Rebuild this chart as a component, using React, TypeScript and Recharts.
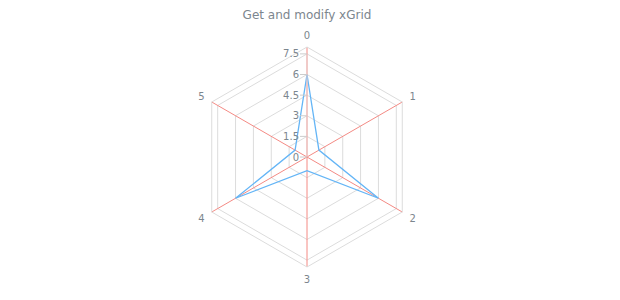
import { RadarChart, Radar, PolarGrid, PolarAngleAxis, PolarRadiusAxis } from "recharts";

const categories = ["0", "1", "2", "3", "4", "5"];
const values = [6, 1, 6, 1, 6, 1];
const radiusTicks = [0, 1.5, 3, 4.5, 6, 7.5];

const data = categories.map((name, i) => ({ name, value: values[i] }));

const font = "'DejaVu Sans', Verdana, sans-serif";
const labelColor = "#7c868e";
const CX = 299;
const CY = 149;

function AngleTick(props: any) {
  const { payload, cx, cy, x, y } = props;
  const dx = x - cx;
  const dy = y - cy;
  const len = Math.sqrt(dx * dx + dy * dy) || 1;
  const px = cx + (dx / len) * (len + 4);
  const py = cy + (dy / len) * (len + 4);
  return (
    <text x={px} y={py} textAnchor="middle" dominantBaseline="central" fill={labelColor} fontSize={10} fontFamily={font}>
      {payload.value}
    </text>
  );
}

function RadiusTick(props: any) {
  const { payload, y } = props;
  return (
    <g>
      <line x1={CX - 7} x2={CX} y1={y} y2={y} stroke="#cccccc" />
      <text x={CX - 8} y={y} textAnchor="end" dominantBaseline="central" fill={labelColor} fontSize={10} fontFamily={font}>
        {payload.value}
      </text>
    </g>
  );
}

export default function App() {
  return (
    <div style={{ width: 620, height: 300, position: "relative", fontFamily: font }}>
      <div style={{ position: "absolute", left: 0, width: 598, textAlign: "center", fontSize: 12, color: "#7c868e", lineHeight: "14px", top: 0 }}>
        Get and modify xGrid
      </div>
      <RadarChart width={620} height={300} data={data} cx={CX} cy={CY} outerRadius={110} margin={{ top: 0, right: 0, bottom: 0, left: 0 }}>
        <PolarGrid gridType="polygon" radialLines={false} stroke="#dcdcdc" />
        <PolarGrid gridType="polygon" polarRadius={[]} stroke="#f48a84" />
        <PolarAngleAxis dataKey="name" tick={<AngleTick />} axisLine={{ stroke: "#dcdcdc" }} tickLine={false} />
        <PolarRadiusAxis
          type="number"
          angle={90}
          domain={[0, 7.5]}
          allowDataOverflow
          tickCount={16}
          ticks={radiusTicks as any}
          orientation="left"
          axisLine={{ stroke: "#e8cfcf" }}
          tickLine={false}
          tick={<RadiusTick />}
        />
        <Radar dataKey="value" stroke="#64b5f6" strokeWidth={1.3} fill="none" isAnimationActive={false} dot={false} />
      </RadarChart>
    </div>
  );
}
